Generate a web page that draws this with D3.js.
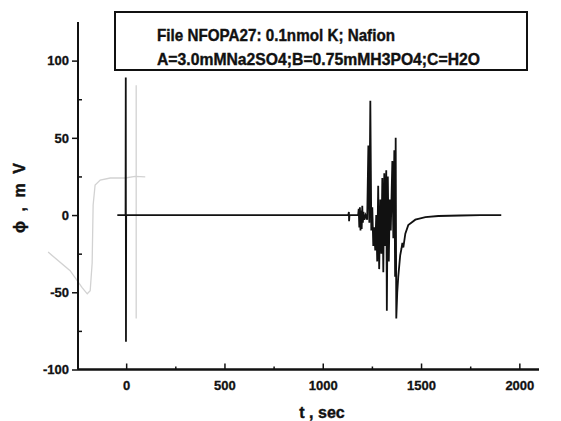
<!DOCTYPE html>
<html>
<head>
<meta charset="utf-8">
<script src="https://cdn.jsdelivr.net/npm/d3@7/dist/d3.min.js"></script>
<style>
  html, body { margin: 0; padding: 0; background: #fff; }
  svg { display: block; }
  text { font-family: "Liberation Sans", Arial, sans-serif; font-weight: bold; fill: #111; }
</style>
</head>
<body>
<script>
// ---- data ----
const xTicks = [0, 500, 1000, 1500, 2000];
const xMinorTicks = [250, 750, 1250, 1750];
const yTicks = [-100, -50, 0, 50, 100];
const yMinorTicks = [-75, -25, 25, 75];
const legendLines = ["File NFOPA27: 0.1nmol K; Nafion", "A=3.0mMNa2SO4;B=0.75mMH3PO4;C=H2O"];
const xLabel = "t , sec";
const yLabel = "\u03d5 , m V";

// main potential trace: time (s), potential (mV)
const traceT = [-45, -3, -2, -1, 0, 1, 1130, 1133, 1134, 1136, 1180, 1183, 1186, 1189, 1192, 1195, 1198, 1201, 1204, 1207, 1212, 1218, 1226, 1232, 1237, 1242, 1247, 1252, 1257, 1262, 1267, 1272, 1277, 1282, 1287, 1293, 1298, 1303, 1308, 1313, 1318, 1323, 1326, 1331, 1336, 1341, 1346, 1354, 1359, 1364, 1368, 1371, 1374, 1379, 1384, 1394, 1400, 1405, 1410, 1420, 1435, 1471, 1522, 1588, 1700, 1802, 1908];
const traceV = [0, 0, 89, -82, 0, 0, 0, 2, -4, 0, 0, 4, -8, 5, -10, 3, -9, 6, -5, 2, -3, 0, -3, 45, -5, 74, -10, 5, -20, -8, -23, 0, -30, 19, -35, 10, -25, 24, -37, 27, -20, 29, -62, 25, -30, 10, -10, 35, -15, 42, -40, 50, -67, -50, -40, -26, -22, -18, -21, -12, -6.5, -3, -1.3, -0.6, -0.3, 0, 0];

// faint show-through trace visible in the scan
const ghostT = [-397, -285, -224, -198, -183, -173, -168, -158, -132, -81, -5, 46, 97];
const ghostV = [-24, -36, -47, -51, -49, -31, 6.5, 19.5, 22.7, 24, 24, 25, 24.7];
const ghostSpikeT = [51, 51];
const ghostSpikeV = [84, -67];

// ---- chart ----
const W = 561, H = 421;
const svg = d3.select("body").append("svg").attr("width", W).attr("height", H);

const x = d3.scaleLinear().domain([-245, 2100]).range([78, 539]);
const y = d3.scaleLinear().domain([-100, 125]).range([369.5, 22]);

const line = d3.line().x(d => x(d[0])).y(d => y(d[1]));
const fmt = d => String(d);

// ghost (show-through) marks
svg.append("path")
  .datum(d3.zip(ghostT, ghostV))
  .attr("d", line).attr("fill", "none").attr("stroke", "#d2d2d2").attr("stroke-width", 1.3);
svg.append("path")
  .datum(d3.zip(ghostSpikeT, ghostSpikeV))
  .attr("d", line).attr("fill", "none").attr("stroke", "#d2d2d2").attr("stroke-width", 1.3);

// main trace
svg.append("path")
  .datum(d3.zip(traceT, traceV))
  .attr("d", line).attr("fill", "none").attr("stroke", "#111")
  .attr("stroke-width", 1.8).attr("stroke-linejoin", "miter");

function styleTicks(g) {
  g.selectAll("text").style("font-size", "13px")
    .style("font-family", "Liberation Sans, Arial, sans-serif").style("font-weight", "bold")
    .attr("fill", "#111").attr("stroke", "#111").attr("stroke-width", 0.3);
}

// x axis
const xAxisG = svg.append("g").attr("transform", `translate(0,${y(-100)})`);
xAxisG.call(d3.axisBottom(x).tickValues(xTicks).tickSize(-6).tickPadding(11).tickFormat(fmt));
xAxisG.append("g").call(d3.axisBottom(x).tickValues(xMinorTicks).tickSize(-3).tickFormat(""));
xAxisG.selectAll(".domain").attr("d", `M${x.range()[0]},0H${x.range()[1]}`).attr("stroke", "#111").attr("stroke-width", 2);
xAxisG.selectAll("line").attr("stroke", "#111").attr("stroke-width", 1.5);
styleTicks(xAxisG);

// y axis
const yAxisG = svg.append("g").attr("transform", `translate(${x(-245)},0)`);
yAxisG.call(d3.axisLeft(y).tickValues(yTicks).tickSize(6).tickPadding(3).tickFormat(fmt));
yAxisG.append("g").call(d3.axisLeft(y).tickValues(yMinorTicks).tickSize(-4).tickFormat(""));
yAxisG.selectAll(".domain").attr("d", `M0,${y.range()[0]}V${y.range()[1]}`).attr("stroke", "#111").attr("stroke-width", 2);
yAxisG.selectAll("line").attr("stroke", "#111").attr("stroke-width", 1.5);
styleTicks(yAxisG);

// axis titles
svg.append("text").attr("x", 322).attr("y", 418).attr("text-anchor", "middle")
  .style("font-size", "16px").attr("stroke", "#111").attr("stroke-width", 0.4).text(xLabel);
svg.append("text").attr("transform", "translate(25,198) rotate(-90)").attr("text-anchor", "middle")
  .style("font-size", "16px").attr("stroke", "#111").attr("stroke-width", 0.4)
  .attr("textLength", 70).attr("lengthAdjust", "spacing").text(yLabel);

// legend box
svg.append("rect").attr("x", 115).attr("y", 12).attr("width", 412).attr("height", 58)
  .attr("fill", "none").attr("stroke", "#111").attr("stroke-width", 2);
const lens = [238, 323];
legendLines.forEach((s, i) => {
  svg.append("text").attr("x", 157).attr("y", 41 + i * 24)
    .style("font-size", "17px").attr("stroke", "#111").attr("stroke-width", 0.4)
    .attr("textLength", lens[i]).attr("lengthAdjust", "spacingAndGlyphs").text(s);
});
</script>
</body>
</html>
